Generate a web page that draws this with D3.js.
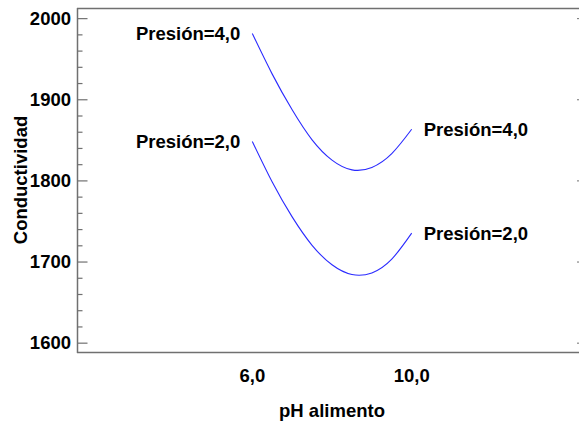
<!DOCTYPE html>
<html><head><meta charset="utf-8">
<script src="https://cdn.jsdelivr.net/npm/d3@7"></script>
<style>body{margin:0;background:#fff;}svg{display:block;}text{font-family:"Liberation Sans",Arial,sans-serif;font-weight:bold;fill:#000;}</style>
</head><body>
<svg id="c" width="579" height="423"></svg>
<script>
const phValues = [6.0, 6.5, 7.0, 7.5, 8.0, 8.5, 9.0, 9.5, 10.0];
const presion4 = [1981, 1931, 1887, 1850, 1825, 1813, 1816, 1833, 1863];
const presion2 = [1848, 1798, 1755, 1720, 1696, 1684, 1686, 1703, 1735];
const seriesNames = ["Presión=4,0", "Presión=2,0"];
const xTickValues = [6, 10];
const xTickLabels = ["6,0", "10,0"];
const yTickValues = [1600, 1700, 1800, 1900, 2000];
const xTitle = "pH alimento";
const yTitle = "Conductividad";

const svg = d3.select("#c");
const L = 77, R = 587, T = 8, B = 352;
const x = d3.scaleLinear().domain([1.6, 14.4]).range([L, R]);
const y = d3.scaleLinear().domain([1588.5, 2012.5]).range([B, T]);
const axisColor = "#707070";
const fs = "18.5px";

// frame
svg.append("line").attr("x1", L).attr("x2", R).attr("y1", T + 0.5).attr("y2", T + 0.5).attr("stroke", axisColor).attr("stroke-width", 1.5);
svg.append("line").attr("x1", L).attr("x2", R).attr("y1", B + 0.5).attr("y2", B + 0.5).attr("stroke", axisColor).attr("stroke-width", 1.5);

// left axis with inward ticks
const minorTicks = d3.range(1600, 2001, 20);
const yAxisL = d3.axisRight(y).tickValues(yTickValues).tickSize(10).tickFormat("").tickSizeOuter(0);
const gL = svg.append("g").attr("transform", `translate(${L + 0.5},0)`).call(yAxisL);
gL.select(".domain").attr("stroke", axisColor).attr("stroke-width", 1.5).attr("d", `M0,${T}V${B + 1}`);
gL.selectAll(".tick line").attr("stroke", axisColor).attr("stroke-width", 1.2);
const gLm = svg.append("g").attr("transform", `translate(${L + 0.5},0)`).call(d3.axisRight(y).tickValues(minorTicks.filter(v => v % 100 !== 0)).tickSize(5).tickFormat("").tickSizeOuter(0));
gLm.select(".domain").remove();
gLm.selectAll(".tick line").attr("stroke", axisColor).attr("stroke-width", 1.2);

// right axis (mostly off-canvas)
const gR = svg.append("g").attr("transform", `translate(${R},0)`).call(d3.axisLeft(y).tickValues(yTickValues).tickSize(10).tickFormat("").tickSizeOuter(0));
gR.select(".domain").attr("stroke", axisColor);
gR.selectAll(".tick line").attr("stroke", axisColor);

// y tick labels
svg.append("g").selectAll("text").data(yTickValues).join("text")
  .attr("x", 71).attr("y", d => y(d)).attr("dy", "0.36em")
  .attr("text-anchor", "end").style("font-size", fs).text(d => d);

// x tick labels
svg.append("g").selectAll("text").data(xTickValues).join("text")
  .attr("x", d => x(d)).attr("y", 382)
  .attr("text-anchor", "middle").style("font-size", fs).text((d, i) => xTickLabels[i]);

// titles
svg.append("text").attr("x", (L + R) / 2).attr("y", 417).attr("text-anchor", "middle").style("font-size", fs).text(xTitle);
svg.append("text").attr("transform", `translate(27,${(T + B) / 2}) rotate(-90)`).attr("text-anchor", "middle").style("font-size", fs).text(yTitle);

// curves
const series = [presion4, presion2];
const line = d3.line().x((d, i) => x(phValues[i])).y(d => y(d)).curve(d3.curveNatural);
series.forEach((s, k) => {
  svg.append("path").datum(s).attr("d", line).attr("fill", "none").attr("stroke", "#2a2aff").attr("stroke-width", 1.1);
  svg.append("text").attr("x", x(phValues[0]) - 12).attr("y", y(s[0])).attr("dy", "0.36em")
    .attr("text-anchor", "end").style("font-size", fs).text(seriesNames[k]);
  svg.append("text").attr("x", x(phValues[phValues.length - 1]) + 12).attr("y", y(s[s.length - 1])).attr("dy", "0.36em")
    .attr("text-anchor", "start").style("font-size", fs).text(seriesNames[k]);
});
</script>
</body></html>
